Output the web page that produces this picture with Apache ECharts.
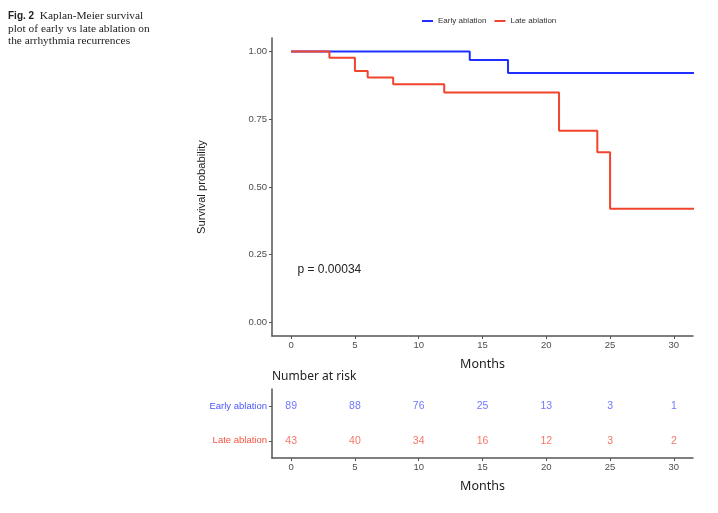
<!DOCTYPE html>
<html>
<head>
<meta charset="utf-8">
<script src="https://cdn.jsdelivr.net/npm/echarts@6/dist/echarts.min.js"></script>
<style>
html, body { margin: 0; padding: 0; background: #fff; }
#chart1 { width: 718px; height: 513px; }
</style>
</head>
<body>
<div id="chart1"></div>
<script>
// KM steps (months, survival)
var earlyTime = [0, 14, 17, 32];
var earlySurv = [1.0, 0.969, 0.921, 0.921];
var lateTime = [0, 3, 5, 6, 8, 12, 21, 24, 25, 32];
var lateSurv = [1.0, 0.977, 0.928, 0.904, 0.879, 0.849, 0.708, 0.628, 0.42, 0.42];

// number at risk table
var riskTimes = [0, 5, 10, 15, 20, 25, 30];
var riskEarly = [89, 88, 76, 25, 13, 3, 1];
var riskLate = [43, 40, 34, 16, 12, 3, 2];
var groups = ['Late ablation', 'Early ablation'];
var xTicks = [0, 5, 10, 15, 20, 25, 30];
var yTicks = [0, 0.25, 0.5, 0.75, 1];

var blue = '#1f2fff';
var red = '#f0442c';
var axisGray = '#555';
var labelGray = '#4d4d4d';

function pairs(t, s) {
    var out = [];
    for (var i = 0; i < t.length; i++) {
        out.push([t[i], s[i]]);
    }
    return out;
}

function riskData(vals, grp) {
    var out = [];
    for (var i = 0; i < riskTimes.length; i++) {
        out.push([riskTimes[i], grp, vals[i]]);
    }
    return out;
}

var xAxisBase = function(idx, gap) {
    return {
        type: 'value',
        gridIndex: idx,
        min: -1.5,
        max: 31.5,
        name: 'Months',
        nameLocation: 'middle',
        nameGap: gap,
        nameTextStyle: { fontFamily: 'Noto Sans', fontSize: 12.5, color: '#222' },
        axisLine: { show: true, onZero: false, lineStyle: { color: axisGray, width: 1.5 } },
        axisTick: { show: true, length: 3, customValues: xTicks, lineStyle: { color: axisGray } },
        axisLabel: { customValues: xTicks, fontFamily: 'Liberation Sans', fontSize: 9.5, color: labelGray, margin: 4 },
        splitLine: { show: false }
    };
};

var chart1 = echarts.init(document.getElementById('chart1'));
var option = {
    animation: false,
    backgroundColor: '#fff',
    legend: {
        left: 417,
        top: 12,
        icon: 'rect',
        itemWidth: 11,
        itemHeight: 2,
        itemGap: 8,
        textStyle: { fontFamily: 'Liberation Sans', fontSize: 8, color: '#333' },
        data: ['Early ablation', 'Late ablation']
    },
    graphic: [{
        type: 'text',
        left: 8,
        top: 10,
        style: {
            text: '{b|Fig. 2}  Kaplan-Meier survival\nplot of early vs late ablation on\nthe arrhythmia recurrences',
            fontFamily: 'Liberation Serif',
            fontSize: 11.4,
            lineHeight: 12.5,
            fill: '#222',
            rich: {
                b: { fontFamily: 'Liberation Sans', fontWeight: 'bold', fontSize: 10, fill: '#222' }
            }
        }
    }, {
        type: 'text',
        left: 272,
        top: 371,
        style: { text: 'Number at risk', fontFamily: 'Noto Sans', fontSize: 12, fill: '#222' }
    }],
    grid: [
        { left: 272, top: 38, width: 421, height: 298 },
        { left: 272, top: 389, width: 421, height: 69 }
    ],
    xAxis: [xAxisBase(0, 22), xAxisBase(1, 22)],
    yAxis: [{
        type: 'value',
        gridIndex: 0,
        min: -0.05,
        max: 1.05,
        name: 'Survival probability',
        nameLocation: 'middle',
        nameGap: 65,
        nameTextStyle: { fontFamily: 'Liberation Sans', fontSize: 11.2, color: '#222' },
        axisLine: { show: true, onZero: false, lineStyle: { color: axisGray, width: 1.5 } },
        axisTick: { show: true, length: 3, customValues: yTicks, lineStyle: { color: axisGray } },
        axisLabel: {
            customValues: yTicks,
            fontFamily: 'Liberation Sans', fontSize: 9.5, color: labelGray, margin: 5,
            formatter: function(v) { return v.toFixed(2); }
        },
        splitLine: { show: false }
    }, {
        type: 'category',
        gridIndex: 1,
        data: groups,
        axisLine: { show: true, onZero: false, lineStyle: { color: axisGray, width: 1.5 } },
        axisTick: { show: true, length: 3, alignWithLabel: true, lineStyle: { color: axisGray } },
        axisLabel: {
            fontFamily: 'Liberation Sans', fontSize: 9.5, margin: 5,
            color: function(v) { return v == 'Early ablation' ? '#4a55ff' : '#f2533f'; }
        }
    }],
    series: [{
        name: 'Early ablation',
        type: 'line',
        step: 'end',
        xAxisIndex: 0,
        yAxisIndex: 0,
        symbol: 'none',
        z: 2,
        lineStyle: { color: blue, width: 2 },
        itemStyle: { color: blue },
        data: pairs(earlyTime, earlySurv)
    }, {
        name: 'Late ablation',
        type: 'line',
        step: 'end',
        xAxisIndex: 0,
        yAxisIndex: 0,
        symbol: 'none',
        z: 5,
        lineStyle: { color: red, width: 2 },
        itemStyle: { color: red },
        data: pairs(lateTime, lateSurv),
        markPoint: {
            symbol: 'rect',
            symbolSize: 0,
            label: {
                show: true,
                formatter: 'p = 0.00034',
                fontFamily: 'Liberation Sans',
                fontSize: 12,
                color: '#222',
                position: 'right',
                distance: 0
            },
            data: [{ coord: [0.5, 0.195] }]
        }
    }, {
        name: 'riskEarly',
        type: 'scatter',
        xAxisIndex: 1,
        yAxisIndex: 1,
        symbolSize: 0,
        label: {
            show: true, position: 'inside',
            fontFamily: 'Liberation Sans', fontSize: 10.5, color: '#4a55ff',
            formatter: function(p) { return p.value[2]; }
        },
        data: riskData(riskEarly, 'Early ablation')
    }, {
        name: 'riskLate',
        type: 'scatter',
        xAxisIndex: 1,
        yAxisIndex: 1,
        symbolSize: 0,
        label: {
            show: true, position: 'inside',
            fontFamily: 'Liberation Sans', fontSize: 10.5, color: '#f2533f',
            formatter: function(p) { return p.value[2]; }
        },
        data: riskData(riskLate, 'Late ablation')
    }]
};
chart1.setOption(option);
</script>
</body>
</html>
